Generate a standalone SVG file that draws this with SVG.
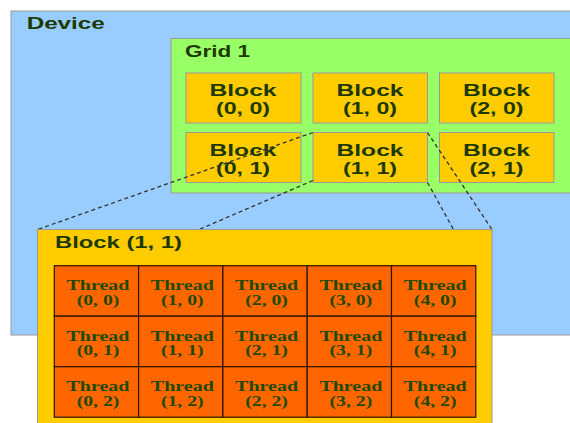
<svg xmlns="http://www.w3.org/2000/svg" width="570" height="423" viewBox="0 0 570 423">
  <style>
    .lbl { font-family: "Liberation Sans", Arial, sans-serif; font-weight: bold; font-size: 16px; fill: #1c3a00; }
    .ctr { text-anchor: middle; }
    .thr { font-family: "Liberation Serif", "Times New Roman", serif; font-weight: bold; font-size: 13.6px; fill: #1f4a00; text-anchor: middle; }
    .device { fill: #99ccff; stroke: #999999; stroke-width: 1; }
    .grid { fill: #99ff66; stroke: #999999; stroke-width: 1; }
    .block { fill: #ffcc00; stroke: #999999; stroke-width: 1; }
    .cell { fill: #ff6600; stroke: #2a1400; stroke-width: 1.2; }
    .link { stroke: #333333; stroke-width: 1.3; stroke-dasharray: 4 3; fill: none; }
  </style>

  <rect width="570" height="423" fill="#ffffff"/>

  <g id="device">
    <rect class="device" x="11" y="11" width="580" height="324"/>
    <text class="lbl" x="26.7" y="29" textLength="78" lengthAdjust="spacingAndGlyphs">Device</text>
  </g>

  <g id="grid-1">
    <rect class="grid" x="171" y="38.5" width="420" height="154.5"/>
    <text class="lbl" x="185" y="56.5" textLength="65" lengthAdjust="spacingAndGlyphs">Grid 1</text>
  </g>

  <g id="block-0-0">
    <rect class="block" x="186" y="73" width="115" height="50"/>
    <text class="lbl ctr" x="243" y="96" textLength="67" lengthAdjust="spacingAndGlyphs">Block</text>
    <text class="lbl ctr" x="243" y="114.3" textLength="54" lengthAdjust="spacingAndGlyphs">(0, 0)</text>
  </g>
  <g id="block-1-0">
    <rect class="block" x="313" y="73" width="114.5" height="50"/>
    <text class="lbl ctr" x="370" y="96" textLength="67" lengthAdjust="spacingAndGlyphs">Block</text>
    <text class="lbl ctr" x="370" y="114.3" textLength="54" lengthAdjust="spacingAndGlyphs">(1, 0)</text>
  </g>
  <g id="block-2-0">
    <rect class="block" x="439.5" y="73" width="114.5" height="50"/>
    <text class="lbl ctr" x="496.5" y="96" textLength="67" lengthAdjust="spacingAndGlyphs">Block</text>
    <text class="lbl ctr" x="496.5" y="114.3" textLength="54" lengthAdjust="spacingAndGlyphs">(2, 0)</text>
  </g>
  <g id="block-0-1">
    <rect class="block" x="186" y="132.5" width="115" height="50"/>
    <text class="lbl ctr" x="243" y="155.8" textLength="67" lengthAdjust="spacingAndGlyphs">Block</text>
    <text class="lbl ctr" x="243" y="174" textLength="54" lengthAdjust="spacingAndGlyphs">(0, 1)</text>
  </g>
  <g id="block-1-1">
    <rect class="block" x="313" y="132.5" width="114.5" height="50"/>
    <text class="lbl ctr" x="370" y="155.8" textLength="67" lengthAdjust="spacingAndGlyphs">Block</text>
    <text class="lbl ctr" x="370" y="174" textLength="54" lengthAdjust="spacingAndGlyphs">(1, 1)</text>
  </g>
  <g id="block-2-1">
    <rect class="block" x="439.5" y="132.5" width="114.5" height="50"/>
    <text class="lbl ctr" x="496.5" y="155.8" textLength="67" lengthAdjust="spacingAndGlyphs">Block</text>
    <text class="lbl ctr" x="496.5" y="174" textLength="54" lengthAdjust="spacingAndGlyphs">(2, 1)</text>
  </g>

  <!-- zoom lines from Block (1, 1) to its expanded view -->
  <g id="connectors">
    <line class="link" x1="313" y1="132.5" x2="37.5" y2="229.5"/>
    <line class="link" x1="313" y1="180.5" x2="199" y2="229.5"/>
    <line class="link" x1="427.5" y1="132.5" x2="492" y2="229.5"/>
    <line class="link" x1="427.5" y1="182.5" x2="453.5" y2="229.5"/>
  </g>

  <g id="block-1-1-detail">
    <rect class="block" x="37.5" y="229.5" width="454.5" height="210"/>
    <text class="lbl" x="55" y="248.3" textLength="127" lengthAdjust="spacingAndGlyphs">Block (1, 1)</text>
  </g>

  <g id="threads">
    <!-- row 0 -->
    <g id="thread-0-0"><rect class="cell" x="54.3" y="265.7" width="84.3" height="50.5"/><text class="thr" x="98" y="290.3" textLength="63" lengthAdjust="spacingAndGlyphs">Thread</text><text class="thr" x="98" y="305" textLength="42.7" lengthAdjust="spacingAndGlyphs">(0, 0)</text></g>
    <g id="thread-1-0"><rect class="cell" x="138.6" y="265.7" width="84.3" height="50.5"/><text class="thr" x="182.3" y="290.3" textLength="63" lengthAdjust="spacingAndGlyphs">Thread</text><text class="thr" x="182.3" y="305" textLength="42.7" lengthAdjust="spacingAndGlyphs">(1, 0)</text></g>
    <g id="thread-2-0"><rect class="cell" x="222.9" y="265.7" width="84.3" height="50.5"/><text class="thr" x="266.6" y="290.3" textLength="63" lengthAdjust="spacingAndGlyphs">Thread</text><text class="thr" x="266.6" y="305" textLength="42.7" lengthAdjust="spacingAndGlyphs">(2, 0)</text></g>
    <g id="thread-3-0"><rect class="cell" x="307.2" y="265.7" width="84.3" height="50.5"/><text class="thr" x="350.9" y="290.3" textLength="63" lengthAdjust="spacingAndGlyphs">Thread</text><text class="thr" x="350.9" y="305" textLength="42.7" lengthAdjust="spacingAndGlyphs">(3, 0)</text></g>
    <g id="thread-4-0"><rect class="cell" x="391.5" y="265.7" width="84.3" height="50.5"/><text class="thr" x="435.2" y="290.3" textLength="63" lengthAdjust="spacingAndGlyphs">Thread</text><text class="thr" x="435.2" y="305" textLength="42.7" lengthAdjust="spacingAndGlyphs">(4, 0)</text></g>
    <!-- row 1 -->
    <g id="thread-0-1"><rect class="cell" x="54.3" y="316.2" width="84.3" height="50.5"/><text class="thr" x="98" y="340.6" textLength="63" lengthAdjust="spacingAndGlyphs">Thread</text><text class="thr" x="98" y="355.4" textLength="42.7" lengthAdjust="spacingAndGlyphs">(0, 1)</text></g>
    <g id="thread-1-1"><rect class="cell" x="138.6" y="316.2" width="84.3" height="50.5"/><text class="thr" x="182.3" y="340.6" textLength="63" lengthAdjust="spacingAndGlyphs">Thread</text><text class="thr" x="182.3" y="355.4" textLength="42.7" lengthAdjust="spacingAndGlyphs">(1, 1)</text></g>
    <g id="thread-2-1"><rect class="cell" x="222.9" y="316.2" width="84.3" height="50.5"/><text class="thr" x="266.6" y="340.6" textLength="63" lengthAdjust="spacingAndGlyphs">Thread</text><text class="thr" x="266.6" y="355.4" textLength="42.7" lengthAdjust="spacingAndGlyphs">(2, 1)</text></g>
    <g id="thread-3-1"><rect class="cell" x="307.2" y="316.2" width="84.3" height="50.5"/><text class="thr" x="350.9" y="340.6" textLength="63" lengthAdjust="spacingAndGlyphs">Thread</text><text class="thr" x="350.9" y="355.4" textLength="42.7" lengthAdjust="spacingAndGlyphs">(3, 1)</text></g>
    <g id="thread-4-1"><rect class="cell" x="391.5" y="316.2" width="84.3" height="50.5"/><text class="thr" x="435.2" y="340.6" textLength="63" lengthAdjust="spacingAndGlyphs">Thread</text><text class="thr" x="435.2" y="355.4" textLength="42.7" lengthAdjust="spacingAndGlyphs">(4, 1)</text></g>
    <!-- row 2 -->
    <g id="thread-0-2"><rect class="cell" x="54.3" y="366.7" width="84.3" height="50.5"/><text class="thr" x="98" y="391" textLength="63" lengthAdjust="spacingAndGlyphs">Thread</text><text class="thr" x="98" y="405.8" textLength="42.7" lengthAdjust="spacingAndGlyphs">(0, 2)</text></g>
    <g id="thread-1-2"><rect class="cell" x="138.6" y="366.7" width="84.3" height="50.5"/><text class="thr" x="182.3" y="391" textLength="63" lengthAdjust="spacingAndGlyphs">Thread</text><text class="thr" x="182.3" y="405.8" textLength="42.7" lengthAdjust="spacingAndGlyphs">(1, 2)</text></g>
    <g id="thread-2-2"><rect class="cell" x="222.9" y="366.7" width="84.3" height="50.5"/><text class="thr" x="266.6" y="391" textLength="63" lengthAdjust="spacingAndGlyphs">Thread</text><text class="thr" x="266.6" y="405.8" textLength="42.7" lengthAdjust="spacingAndGlyphs">(2, 2)</text></g>
    <g id="thread-3-2"><rect class="cell" x="307.2" y="366.7" width="84.3" height="50.5"/><text class="thr" x="350.9" y="391" textLength="63" lengthAdjust="spacingAndGlyphs">Thread</text><text class="thr" x="350.9" y="405.8" textLength="42.7" lengthAdjust="spacingAndGlyphs">(3, 2)</text></g>
    <g id="thread-4-2"><rect class="cell" x="391.5" y="366.7" width="84.3" height="50.5"/><text class="thr" x="435.2" y="391" textLength="63" lengthAdjust="spacingAndGlyphs">Thread</text><text class="thr" x="435.2" y="405.8" textLength="42.7" lengthAdjust="spacingAndGlyphs">(4, 2)</text></g>
  </g>
</svg>
